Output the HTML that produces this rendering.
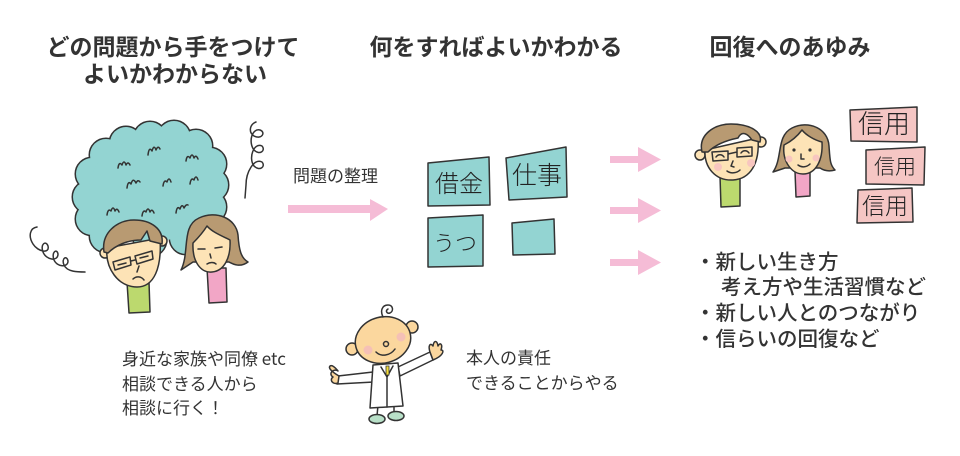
<!DOCTYPE html>
<html><head><meta charset="utf-8">
<style>
html,body{margin:0;padding:0;background:#fff;}
svg{display:block;}
.h{font-family:"Liberation Sans","Noto Sans CJK JP",sans-serif;font-weight:bold;font-size:23px;fill:#333;}
.t{font-family:"Noto Sans CJK JP","Liberation Sans",sans-serif;font-size:17px;fill:#333;}
.l{font-family:"Liberation Sans","Noto Sans CJK JP",sans-serif;font-size:20.5px;fill:#333;font-weight:500;}
.b{font-family:"Noto Sans CJK JP",sans-serif;font-weight:300;fill:#222;}
.s{stroke:#333;stroke-width:1.5;stroke-linejoin:round;stroke-linecap:round;}
</style></head>
<body>
<svg width="960" height="456" viewBox="0 0 960 456" xmlns="http://www.w3.org/2000/svg">
<!-- headings -->
<text class="h" x="173" y="55" text-anchor="middle">どの問題から手をつけて</text>
<text class="h" x="175" y="82" text-anchor="middle">よいかわからない</text>
<text class="h" x="496" y="55" text-anchor="middle">何をすればよいかわかる</text>
<text class="h" x="790" y="55" text-anchor="middle">回復へのあゆみ</text>

<!-- cloud outline layer -->
<g fill="#93d4d2" stroke="#333" stroke-width="3">
<circle cx="150" cy="138" r="16"/><circle cx="174" cy="137" r="16"/><circle cx="126" cy="143" r="16"/>
<circle cx="196" cy="146" r="16"/><circle cx="106" cy="155" r="16"/><circle cx="210" cy="164" r="16"/>
<circle cx="92" cy="174" r="16"/><circle cx="212" cy="185" r="16"/><circle cx="89" cy="197" r="16"/>
<circle cx="210" cy="207" r="16"/><circle cx="92" cy="219" r="16"/><circle cx="202" cy="226" r="16"/>
<circle cx="106" cy="236" r="16"/><circle cx="186" cy="238" r="16"/><circle cx="150" cy="240" r="16"/>
</g>
<g fill="#93d4d2">
<circle cx="150" cy="138" r="16"/><circle cx="174" cy="137" r="16"/><circle cx="126" cy="143" r="16"/>
<circle cx="196" cy="146" r="16"/><circle cx="106" cy="155" r="16"/><circle cx="210" cy="164" r="16"/>
<circle cx="92" cy="174" r="16"/><circle cx="212" cy="185" r="16"/><circle cx="89" cy="197" r="16"/>
<circle cx="210" cy="207" r="16"/><circle cx="92" cy="219" r="16"/><circle cx="202" cy="226" r="16"/>
<circle cx="106" cy="236" r="16"/><circle cx="186" cy="238" r="16"/><circle cx="150" cy="240" r="16"/>
<ellipse cx="151" cy="190" rx="62" ry="52"/>
</g>
<!-- cloud marks -->
<g fill="none" class="s">
<path d="M148,155 q1,-9 4,-4 q2,-7 4,-1 q2,-5 4,-1"/>
<path d="M118,168 q1,-7 4,-3 q2,-6 4,0 q2,-4 4,0"/>
<path d="M186,161 q1,-7 4,-3 q2,-6 4,0 q2,-4 4,1"/>
<path d="M127,188 q1,-8 4,-4 q2,-7 5,-1 q2,-4 4,-1"/>
<path d="M163,186 q1,-7 4,-4 q2,-6 4,0"/>
<path d="M190,184 q1,-7 4,-4 q2,-6 4,0"/>
<path d="M107,215 q1,-7 4,-4 q2,-6 4,0 q2,-4 4,1"/>
<path d="M142,216 q1,-7 4,-4 q2,-6 4,0 q2,-4 4,1"/>
<path d="M176,213 q1,-8 4,-4 q2,-6 4,-1 q2,-4 4,-3"/>
</g>
<!-- squiggles -->
<path class="s" fill="none" d="M37,227 C30,228 28,236 33,244 C38,252 50,254 48,246 C46,240 40,244 43,252 C46,260 58,262 58,254 C57,248 51,252 54,260 C57,267 68,268 68,261 C67,255 61,258 64,265 C67,272 78,272 85,272"/>
<path class="s" fill="none" d="M256,122 C250,124 248,132 254,136 C262,140 266,132 260,130 C252,128 248,142 254,150 C260,156 266,150 262,146 C254,142 248,158 254,166 C260,172 266,166 262,162 C254,158 246,172 246,185 L245,198"/>

<!-- left man -->
<path class="s" fill="#bcd96e" d="M127,282 L149,282 L150,312 L129,313 Z"/>
<circle class="s" cx="105" cy="253" r="5" fill="#fde3b6"/>
<circle class="s" cx="162" cy="241" r="5" fill="#fde3b6"/>
<path class="s" fill="#fde3b6" d="M107,248 C105,268 118,287 137,287 C154,287 162,268 160,238 Z"/>
<path class="s" fill="#b89a72" d="M104,252 C101,233 117,220 134,220 C151,220 164,229 162,244 L150,241 L147,231 L141,240 C128,240 116,245 108,253 Z"/>
<path class="s" fill="none" d="M113,262 L130,257 L131,265 L115,270 Z M135,256 L152,251 L153,259 L137,264 Z M131,261 L135,260"/>
<path class="s" fill="none" d="M118,265 L126,263 M140,258 L148,256 M139,266 L137,272 M133,279 C136,276 141,276 144,280"/>

<!-- left woman -->
<path class="s" fill="#f2a6c6" d="M207,268 L226,268 L227,302 L209,303 Z"/>
<path class="s" fill="#b89a72" d="M181,270 C190,252 181,226 199,218 C216,210 236,218 238,235 C239,250 241,258 248,262 C240,268 233,264 229,262 L193,262 Z"/>
<path class="s" fill="#fde3b6" d="M193,243 C192,262 201,273 212,272 C224,271 231,258 230,240 C222,236 212,232 207,226 C202,234 197,239 193,243 Z"/>
<path class="s" fill="none" d="M198,249 L205,249 M215,248 L222,247 M210,254 L211,258 M207,264 C210,262 214,262 216,264"/>

<!-- middle label and arrow -->
<text class="t" x="293" y="182">問題の整理</text>
<path fill="#f5bcd6" d="M288,205 L370,205 L370,199 L388,209 L370,221 L370,213 L288,213 Z"/>

<!-- teal boxes -->
<path class="s" fill="#93d4d2" d="M428,163 L489,157 L490,205 L428,206 Z"/>
<path class="s" fill="#93d4d2" d="M506,158 L566,147 L567,197 L509,200 Z"/>
<path class="s" fill="#93d4d2" d="M428,218 L483,215 L483,266 L428,267 Z"/>
<path class="s" fill="#93d4d2" d="M512,223 L554,219 L555,254 L513,255 Z"/>
<text class="b" x="459" y="192" font-size="24" text-anchor="middle">借金</text>
<text class="b" x="537" y="184" font-size="25" text-anchor="middle">仕事</text>
<text class="b" x="455" y="251" font-size="22" text-anchor="middle">うつ</text>

<!-- right arrows -->
<path fill="#f5bcd6" d="M610,156 L638,156 L638,147 L661,159.5 L638,172 L638,163 L610,163 Z"/>
<path fill="#f5bcd6" d="M610,207 L638,207 L638,198 L661,210.5 L638,223 L638,214 L610,214 Z"/>
<path fill="#f5bcd6" d="M610,259 L638,259 L638,250 L661,262.5 L638,275 L638,266 L610,266 Z"/>

<!-- right man -->
<path class="s" fill="#bcd96e" d="M720,176 L740,176 L740,206 L721,207 Z"/>
<circle class="s" cx="700" cy="155" r="5" fill="#fde3b6"/>
<circle class="s" cx="761" cy="142" r="5" fill="#fde3b6"/>
<path class="s" fill="#fde3b6" d="M705,150 C704,168 716,181 733,180 C750,179 760,164 758,138 Z"/>
<path class="s" fill="#b89a72" d="M702,152 C698,135 714,124 731,124 C750,124 763,132 760,142 L752,140 C748,134 742,130 738,138 C728,140 716,144 708,152 Z"/>
<path class="s" fill="none" d="M712,152 L728,151 L728,160 L713,161 Z M737,148 L752,147 L752,156 L737,157 Z M728,154 L737,152"/>
<path class="s" fill="none" d="M716,157 C718,154 722,154 724,157 M741,153 C743,150 747,150 749,153 M733,161 L731,166 L734,167 M727,171 C731,174 737,173 740,170"/>
<circle cx="718" cy="167" r="4" fill="#f8c6c0"/><circle cx="751" cy="163" r="4" fill="#f8c6c0"/>

<!-- right woman -->
<path class="s" fill="#f2a6c6" d="M795,171 L810,171 L810,196 L796,197 Z"/>
<path class="s" fill="#b89a72" d="M773,172 C783,158 776,136 792,128 C808,120 828,128 829,146 C830,160 830,165 835,170 C828,172 823,170 820,168 L785,168 Z"/>
<path class="s" fill="#fde3b6" d="M784,145 C782,162 792,174 803,174 C816,174 823,160 822,142 C814,140 806,135 802,130 C796,138 790,142 784,145 Z"/>
<circle cx="794" cy="150" r="1.6" fill="#333"/><circle cx="810" cy="150" r="1.6" fill="#333"/>
<path class="s" fill="none" d="M801,154 L801,159 L804,159 M798,165 C802,168 807,167 810,164"/>
<circle cx="789" cy="159" r="3.5" fill="#f8c6c0"/><circle cx="816" cy="158" r="3.5" fill="#f8c6c0"/>

<!-- pink boxes -->
<path class="s" fill="#f5c6c4" d="M850,110 L917,107 L917,142 L851,141 Z"/>
<path class="s" fill="#f5c6c4" d="M866,150 L925,147 L924,185 L866,184 Z"/>
<path class="s" fill="#f5c6c4" d="M858,190 L912,188 L913,222 L857,223 Z"/>
<text class="b" x="884" y="133" font-size="26" text-anchor="middle">信用</text>
<text class="b" x="895" y="174" font-size="21" text-anchor="middle">信用</text>
<text class="b" x="885" y="214" font-size="23" text-anchor="middle">信用</text>

<!-- list -->
<text class="l" x="695" y="269">・新しい生き方</text>
<text class="l" x="721" y="294">考え方や生活習慣など</text>
<text class="l" x="695" y="320">・新しい人とのつながり</text>
<text class="l" x="695" y="346">・信らいの回復など</text>

<!-- bottom left text -->
<text class="t" x="122" y="365">身近な家族や同僚 etc</text>
<text class="t" x="122" y="390">相談できる人から</text>
<text class="t" x="122" y="414">相談に行く！</text>

<!-- doctor -->
<path class="s" fill="#fff" d="M373,372 L338,376 L337,384 L374,382 Z"/>
<path class="s" fill="#fbd79e" d="M339,376 C332,372 328,368 330,366 C333,364 337,370 338,371 C333,368 328,374 333,377 C329,380 333,385 338,383 Z"/>
<path class="s" fill="#fff" d="M398,367 L430,352 L433,360 L400,376 Z"/>
<path class="s" fill="#fbd79e" d="M430,352 C428,346 430,342 433,346 C434,340 437,340 438,346 C440,342 443,344 441,350 C445,350 443,356 433,360 Z"/>
<path class="s" fill="none" d="M378,405 L377,416 M394,405 L394,413"/>
<ellipse class="s" cx="377" cy="419" rx="8" ry="4.5" fill="#b8e0c8"/>
<ellipse class="s" cx="396" cy="416" rx="8" ry="4.5" fill="#b8e0c8"/>
<path class="s" fill="#fff" d="M373,365 L398,363 L403,406 L370,408 Z"/>
<path class="s" fill="none" d="M387,375 L387,407 M381,367 L387,377 L393,366"/>
<path fill="#f4dd3a" stroke="#333" stroke-width="0.8" d="M386,366 L389,366 L389,375 L386,375 Z"/>
<circle class="s" cx="352" cy="349" r="6" fill="#fbd79e"/>
<circle class="s" cx="412" cy="327" r="6" fill="#fbd79e"/>
<ellipse class="s" cx="383" cy="340" rx="28" ry="23" fill="#fbd79e" transform="rotate(-15 383 340)"/>
<path class="s" fill="none" d="M383,317 C380,311 382,305 388,305 C393,305 394,311 390,313 C387,314 385,311 388,309"/>
<circle class="s" cx="386" cy="344" r="2.5" fill="none"/>
<path class="s" fill="none" d="M376,352 C381,357 390,356 395,349"/>
<circle cx="368" cy="350" r="4.5" fill="#f5c0b6"/><circle cx="401" cy="337" r="4.5" fill="#f5c0b6"/>

<text class="t" x="466" y="364">本人の責任</text>
<text class="t" x="466" y="389">できることからやる</text>
</svg>
</body></html>
